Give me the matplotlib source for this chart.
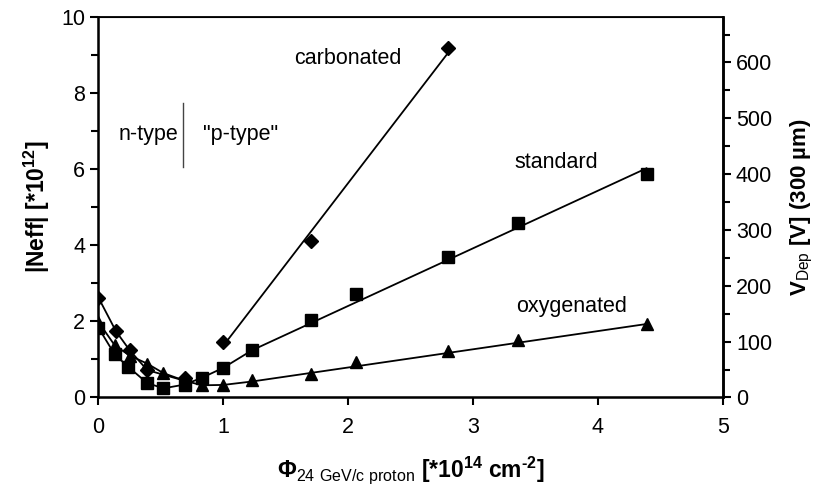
import matplotlib.pyplot as plt
from matplotlib.ticker import MultipleLocator

plt.rcParams['font.family'] = ['Liberation Sans', 'DejaVu Sans']
plt.rcParams['mathtext.fontset'] = 'custom'
plt.rcParams['mathtext.rm'] = 'Liberation Sans'
plt.rcParams['mathtext.bf'] = 'Liberation Sans:bold'

# measured points, fluence in 1e14 cm^-2, |Neff| in 1e12
carb_phi = [0, 0.14, 0.25, 0.39, 0.69, 1.0, 1.70, 2.80]
carb_neff = [2.62, 1.74, 1.24, 0.72, 0.50, 1.47, 4.11, 9.19]
std_phi = [0, 0.13, 0.24, 0.39, 0.52, 0.69, 0.83, 1.0, 1.23, 1.70, 2.06, 2.80, 3.36, 4.39]
std_neff = [1.83, 1.13, 0.80, 0.38, 0.24, 0.34, 0.52, 0.78, 1.24, 2.03, 2.73, 3.68, 4.57, 5.87]
oxy_phi = [0, 0.13, 0.25, 0.39, 0.52, 0.69, 0.83, 1.0, 1.23, 1.70, 2.06, 2.80, 3.36, 4.39]
oxy_neff = [1.98, 1.37, 1.10, 0.89, 0.64, 0.44, 0.32, 0.33, 0.45, 0.62, 0.93, 1.22, 1.52, 1.94]

# curves: connected points below the minimum, linear fits above
carb_low_phi = [0, 0.14, 0.25, 0.39, 0.69]
carb_low_neff = [2.62, 1.74, 1.24, 0.72, 0.44]
carb_fit_phi = [1.0, 2.80]
carb_fit_neff = [1.36, 9.05]
std_line_phi = [0, 0.13, 0.24, 0.39, 0.52, 0.69, 0.83, 1.0, 1.23, 4.39]
std_line_neff = [1.83, 1.13, 0.80, 0.38, 0.24, 0.34, 0.52, 0.78, 1.24, 6.02]
oxy_line_phi = [0, 0.13, 0.25, 0.39, 0.52, 0.69, 0.83, 1.0, 1.23, 4.39]
oxy_line_neff = [1.98, 1.37, 1.10, 0.89, 0.64, 0.44, 0.32, 0.33, 0.42, 1.93]

vdep_max = 682  # V at |Neff| = 10e12, 300 um

fig = plt.figure(figsize=(8.18, 4.90), dpi=100)
ax = fig.add_axes([0.1204, 0.1888, 0.7631, 0.7771])

lw = 1.3
ax.plot(carb_low_phi, carb_low_neff, color='black', lw=lw)
ax.plot(carb_fit_phi, carb_fit_neff, color='black', lw=lw)
ax.plot(std_line_phi, std_line_neff, color='black', lw=lw)
ax.plot(oxy_line_phi, oxy_line_neff, color='black', lw=lw)

ax.plot(oxy_phi, oxy_neff, ls='none', marker='^', ms=9, color='black')
ax.plot(std_phi, std_neff, ls='none', marker='s', ms=9, color='black')
ax.plot(carb_phi, carb_neff, ls='none', marker='D', ms=7, color='black')

fs = 15.5
ax.set_xlim(0, 5)
ax.set_ylim(0, 10)
ax.xaxis.set_major_locator(MultipleLocator(1))
ax.yaxis.set_major_locator(MultipleLocator(2))
ax.yaxis.set_minor_locator(MultipleLocator(1))
ax.tick_params(which='both', direction='out', labelsize=fs, width=1.5)
ax.tick_params(which='major', length=6)
ax.tick_params(which='minor', length=5)
ax.tick_params(axis='x', pad=8)
for side in ['left', 'bottom', 'right']:
    ax.spines[side].set_linewidth(1.8)
ax.spines['top'].set_linewidth(1.3)

ax2 = ax.twinx()
ax2.set_ylim(0, vdep_max)
ax2.yaxis.set_major_locator(MultipleLocator(100))
ax2.yaxis.set_minor_locator(MultipleLocator(50))
ax2.tick_params(which='both', direction='out', labelsize=fs, width=1.5)
ax2.tick_params(which='major', length=6)
ax2.tick_params(which='minor', length=5)
ax2.spines['right'].set_linewidth(1.8)

ax.set_ylabel(r'|Neff| [*10$^{\mathbf{12}}$]', fontsize=16.5, fontweight='bold', labelpad=7)
ax2.set_ylabel(r'V$_{\mathrm{Dep}}$ [V] (300 µm)', fontsize=16, fontweight='bold', labelpad=12)
ax.set_xlabel('$\\mathbf{\\Phi}_{\\mathrm{24\\ GeV/c\\ proton}}$ [*10$^{\\mathbf{14}}$ cm$^{\\mathbf{\u20102}}$]',
              fontsize=16.5, fontweight='bold', labelpad=12)

ax.text(2.0, 8.9, 'carbonated', fontsize=fs, ha='center', va='center')
ax.text(3.67, 6.16, 'standard', fontsize=fs, ha='center', va='center')
ax.text(3.79, 2.38, 'oxygenated', fontsize=fs, ha='center', va='center')
ax.text(0.64, 6.9, 'n-type', fontsize=fs, ha='right', va='center')
ax.text(0.84, 6.9, '"p-type"', fontsize=fs, ha='left', va='center')
ax.plot([0.675, 0.675], [6.05, 7.74], color='#444444', lw=1)

fig.savefig('out.png', dpi=100)
